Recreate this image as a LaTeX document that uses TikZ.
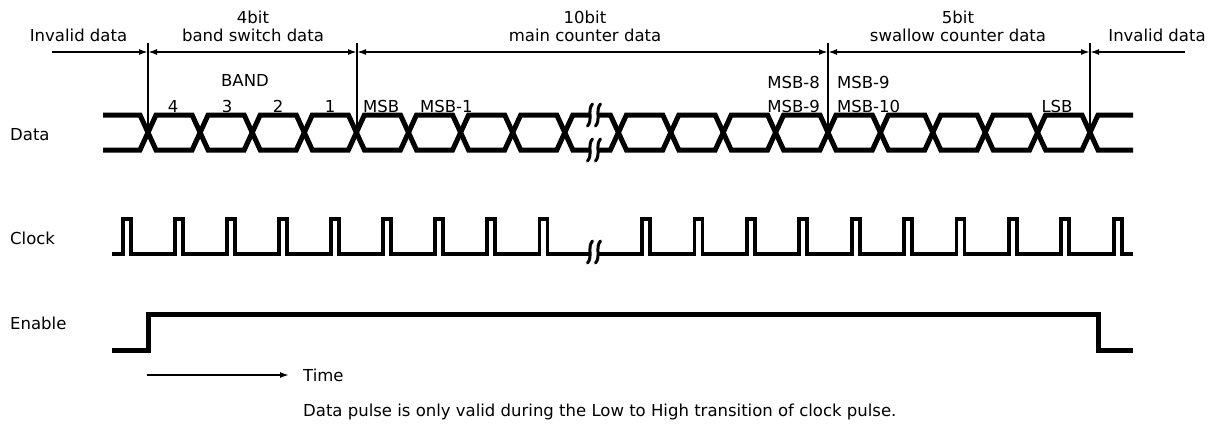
\documentclass[tikz,border=0pt]{standalone}
\usepackage{fontspec}
\setmainfont{DejaVu Sans}
\usetikzlibrary{arrows.meta}
\tikzset{
  sig/.style={line width=5pt, line join=miter, line cap=butt},
  clk/.style={line width=3.8pt, line join=miter, line cap=butt},
  dimline/.style={line width=1.7pt},
  lbl/.style={inner sep=0pt, anchor=base, font=\fontsize{16.5}{18}\selectfont},
  lblw/.style={lbl, anchor=base west},
  lble/.style={lbl, anchor=base east},
  brk/.style={line width=3pt, line cap=round},
  marker/.style={line width=1.8pt},
}
\newcommand{\brkmark}[2]{%
  \draw[brk] ({#1+2.5},{#2-11}) .. controls ({#1-3},{#2-5}) and ({#1+3},{#2+5}) .. ({#1-2.5},{#2+11});}
\begin{document}
\begin{tikzpicture}[x=1pt,y=-1pt]
\useasboundingbox (0,0) rectangle (1219,429);

% ---------- dimension line ----------
\draw[dimline,-{Latex[length=9pt,width=6pt]}] (52,52) -- (148,52);
\draw[dimline,{Latex[length=9pt,width=6pt]}-{Latex[length=9pt,width=6pt]}] (148,52) -- (357,52);
\draw[dimline,{Latex[length=9pt,width=6pt]}-{Latex[length=9pt,width=6pt]}] (357,52) -- (828,52);
\draw[dimline,{Latex[length=9pt,width=6pt]}-{Latex[length=9pt,width=6pt]}] (828,52) -- (1090,52);
\draw[dimline,{Latex[length=9pt,width=6pt]}-] (1090,52) -- (1185,52);
\foreach \m in {148,357,828,1090} \draw[marker] (\m,43) -- (\m,132);

% ---------- labels above ----------
\node[lbl] (inv1) at (78.5,41) {Invalid data};
\node[lbl] (b4a) at (253,23.5) {4bit};
\node[lbl] (b4b) at (253,41) {band switch data};
\node[lbl] (b10a) at (585,23.5) {10bit};
\node[lbl] (b10b) at (585,41) {main counter data};
\node[lbl] (b5a) at (958,23.5) {5bit};
\node[lbl] (b5b) at (958,41) {swallow counter data};
\node[lbl] (inv2) at (1157,41) {Invalid data};

\node[lbl] (band) at (245,86) {BAND};
\node[lbl] (n4) at (173,112) {4};
\node[lbl] (n3) at (227,112) {3};
\node[lbl] (n2) at (278,112) {2};
\node[lbl] (n1) at (330,112) {1};
\node[lblw] (msb) at (363,112) {MSB};
\node[lblw] (msb1) at (420,112) {MSB-1};
\node[lble] (msb8) at (820,88) {MSB-8};
\node[lble] (msb9a) at (820,112) {MSB-9};
\node[lblw] (msb9b) at (837,88) {MSB-9};
\node[lblw] (msb10) at (837,112) {MSB-10};
\node[lbl] (lsb) at (1057,112) {LSB};

% ---------- signal names ----------
\node[lblw] (ldata) at (10,140) {Data};
\node[lblw] (lclock) at (10,244) {Clock};
\node[lblw] (lenable) at (10,329) {Enable};

% ---------- Data ----------
\draw[sig] (103,115) foreach \i in {0,...,8} { -- ({140+52.1*\i},{115+35*mod(\i,2)}) -- ({156+52.1*\i},{150-35*mod(\i,2)}) } -- (591,150);
\draw[sig] (103,150) foreach \i in {0,...,8} { -- ({140+52.1*\i},{150-35*mod(\i,2)}) -- ({156+52.1*\i},{115+35*mod(\i,2)}) } -- (591,115);
\draw[sig] (597,115) foreach \j in {0,...,9} { -- ({610.4+52.4*\j},{115+35*mod(\j,2)}) -- ({626.4+52.4*\j},{150-35*mod(\j,2)}) } -- (1133,115);
\draw[sig] (597,150) foreach \j in {0,...,9} { -- ({610.4+52.4*\j},{150-35*mod(\j,2)}) -- ({626.4+52.4*\j},{115+35*mod(\j,2)}) } -- (1133,150);
\brkmark{590}{115}\brkmark{598}{115}
\brkmark{590}{150}\brkmark{598}{150}

% ---------- Clock ----------
\draw[clk] (112,254) foreach \i in {0,...,8} { -- ({123+52.05*\i},254) -- ({123+52.05*\i},219) -- ({131+52.05*\i},219) -- ({131+52.05*\i},254) } -- (591,254);
\draw[clk] (597,254) foreach \j in {0,...,9} { -- ({642+52.4*\j},254) -- ({642+52.4*\j},219) -- ({650+52.4*\j},219) -- ({650+52.4*\j},254) } -- (1133,254);
\brkmark{590}{252}\brkmark{598}{252}

% ---------- Enable ----------
\draw[sig] (112,350.5) -- (148.5,350.5) -- (148.5,314) -- (1098,314) -- (1098,350.5) -- (1133,350.5);

% ---------- Time ----------
\coordinate (t0) at (147,375);
\coordinate (t1) at (289,375);
\draw[dimline,-{Latex[length=9pt,width=6pt]}] (t0) -- (t1);
\node[lblw] (time) at (303,381) {Time};
\node[lblw] (note) at (303,416) {Data pulse is only valid during the Low to High transition of clock pulse.};
\end{tikzpicture}
\end{document}
